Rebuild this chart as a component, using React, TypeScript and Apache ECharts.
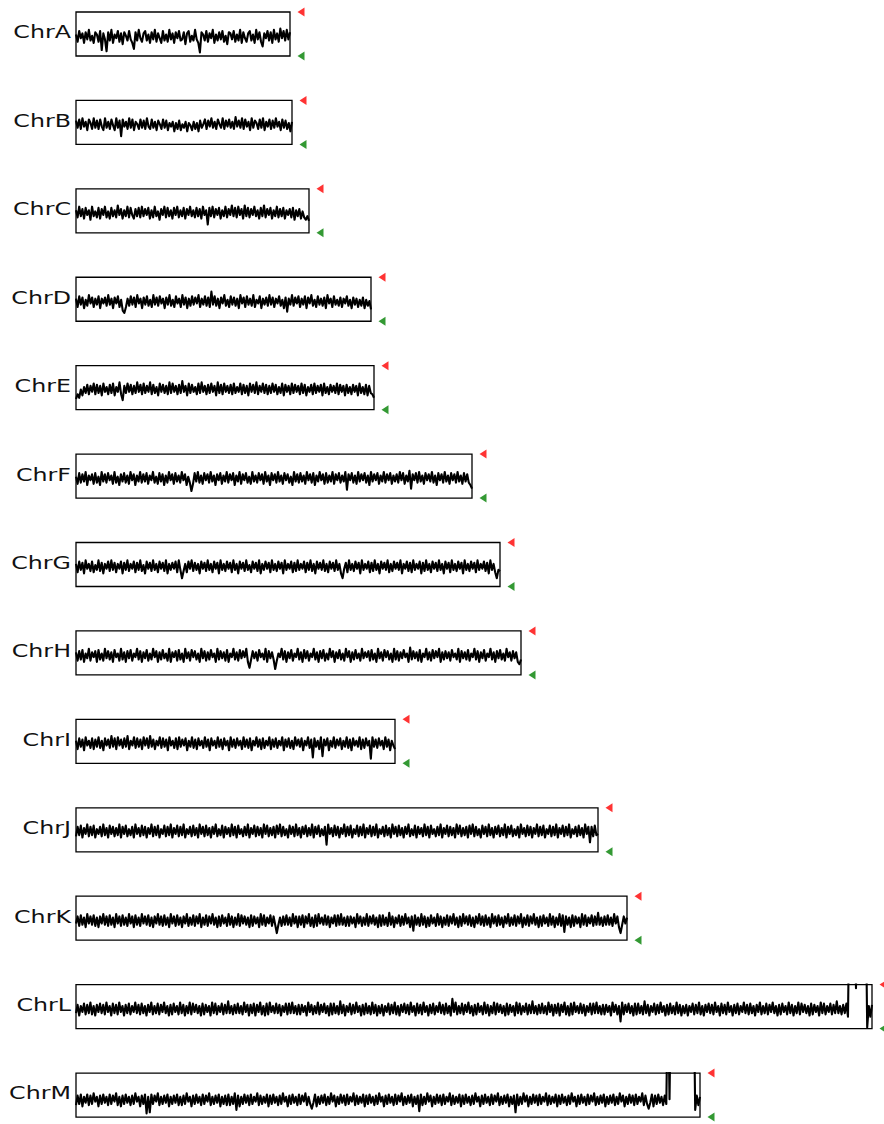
import React, { useEffect, useRef } from "react";
import * as echarts from "echarts";

// ---- data ----
const CHR_NAMES = ["ChrA", "ChrB", "ChrC", "ChrD", "ChrE", "ChrF", "ChrG", "ChrH", "ChrI", "ChrJ", "ChrK", "ChrL", "ChrM"];
// chromosome lengths (kb)
const CHR_LENGTHS = [2140, 2160, 2330, 2950, 2980, 3960, 4240, 4450, 3190, 5220, 5510, 7960, 6240];

// binned signal, evenly spaced along each chromosome (rows of 20 bins)
const chrA = [
  2,-4,5,-1,3,-5,4,-2,6,-3,1,-5,4,2,-4,5,-11,3,-2,-12,
  4,-3,6,-5,2,-1,5,-4,3,-6,4,1,-3,5,-2,-5,-10,4,-3,6,
  -1,-4,3,5,-3,2,-5,4,-2,6,-4,3,-1,-5,5,-3,2,-4,6,-2,
  3,-5,4,-1,5,-3,-2,4,-6,3,5,-4,1,-3,6,-2,-5,-13,4,2,
  -3,5,-4,3,-1,6,-5,2,-3,4,-2,5,-4,1,-6,4,3,-2,5,-4,
  2,-3,6,-5,4,-1,-4,3,5,-3,2,-5,6,-2,4,-4,-8,3,-1,5,
  -3,4,-5,6,-2,3,-4,7,-1,5,-3,6,-2,4,
];
const chrB = [
  4,-2,5,-3,6,-1,3,-4,5,2,-3,6,-2,4,-3,5,-1,-4,6,-2,
  3,-3,5,0,-4,6,-2,4,-9,5,-1,3,-3,6,-2,5,-4,3,1,-3,
  5,-2,4,-3,6,-1,-3,5,-2,3,-4,4,1,-3,5,-2,4,-4,2,-1,
  3,-5,2,-3,4,-4,1,-2,3,-5,2,0,-4,3,-3,2,-5,4,-2,1,
  5,-3,4,-1,6,-2,3,-3,5,1,-2,6,-3,4,-1,5,-2,3,-3,7,
  -1,4,-2,6,-3,5,-1,3,-4,6,-2,4,2,-3,5,-2,6,-4,3,-1,
  5,-3,4,-2,6,-1,3,-4,5,-2,4,-3,2,-5,3,
];
const chrC = [
  3,-3,6,-2,4,-4,5,-1,3,-5,6,-2,2,-3,5,-4,4,-1,6,-3,
  2,-4,5,-2,3,-3,7,-1,4,-4,3,-2,6,-3,5,-1,-4,4,-2,5,
  -3,6,-2,4,-1,5,-4,3,-3,6,-2,2,-5,4,-1,6,-3,5,-2,3,
  -4,5,-1,6,-3,3,-2,5,-4,4,-1,6,-2,3,-3,5,-2,4,-4,6,
  -1,3,-9,5,-2,6,-3,4,-1,5,-4,3,-2,6,-3,4,-1,7,-2,5,
  -3,6,-1,4,-4,7,-2,5,-3,4,-1,6,-2,3,-4,5,-2,7,-3,4,
  -1,5,-4,3,-2,6,-3,4,-2,5,-4,3,-1,4,-3,5,-5,3,-2,4,
  -4,2,-3,-5,-2,-6,
];
const chrD = [
  3,-4,5,-2,4,-5,2,-3,6,-1,4,-4,3,-2,5,-5,3,-1,4,-3,
  6,-2,3,-5,4,-1,5,-4,2,-7,-9,-4,3,-3,5,-2,4,-4,6,-1,
  3,-5,4,-2,5,-3,2,-4,6,-2,4,-3,5,-1,3,-5,4,-2,6,-3,
  2,-4,5,-1,3,-4,6,-2,4,-5,3,-3,5,-2,4,-1,6,-4,3,-2,
  5,-3,4,-4,9,-2,5,-3,3,-5,4,-1,6,-3,2,-4,5,-2,4,-3,
  3,-5,6,-1,4,-4,5,-2,3,-3,6,-4,2,-1,5,-5,3,-2,4,-3,
  6,-2,4,-4,3,-1,5,-3,2,-5,4,-8,3,-2,6,-3,4,-1,5,-4,
  3,-2,5,-5,4,-1,6,-3,2,-4,5,-2,3,-3,4,-5,6,-1,3,-4,
  5,-2,2,-3,4,-4,3,-1,5,-3,2,-5,4,-2,3,-4,2,-3,4,-5,
  2,-3,1,-6,
];
const chrE = [
  -7,-3,-6,1,-4,3,-2,5,-3,4,-1,6,-3,5,-2,4,-4,6,-1,3,
  -3,5,-2,6,-4,3,-1,7,-3,-8,4,-2,6,-1,5,-3,4,-2,7,-1,
  5,-3,6,-2,4,-1,7,-3,5,-2,3,-4,6,-1,5,-2,4,-3,7,-2,
  6,-1,4,-3,5,-2,8,-1,4,-4,6,-2,5,-1,3,-3,6,-2,7,-1,
  4,-3,5,-2,6,-1,4,-4,7,-2,5,-3,6,-1,4,-2,5,-3,6,-2,
  3,-1,6,-3,5,-2,4,-4,6,-1,5,-2,7,-3,4,-1,6,-2,5,-3,
  4,-2,6,-1,5,-3,3,-2,6,-4,5,-1,4,-3,6,-2,5,-1,4,-3,
  6,-2,5,-4,3,-1,5,-3,6,-2,4,-1,5,-4,6,-2,3,-3,5,-1,
  4,-2,6,-3,5,-1,4,-4,5,-2,3,-3,5,-1,4,-4,6,-2,3,-3,
  5,-4,4,-2,-3,-6,
];
const chrF = [
  2,-4,5,-3,4,-2,6,-5,3,-1,4,-4,5,-3,2,-5,6,-2,4,-3,
  5,-1,3,-4,6,-3,2,-5,4,-2,5,-3,3,-4,6,-1,4,-5,3,-2,
  6,-3,4,-2,5,-4,3,-1,6,-3,2,-4,5,-2,4,-5,3,-3,6,-1,
  4,-4,5,-2,3,-3,6,-1,4,-5,2,-3,-10,-4,5,-2,6,-3,3,-4,
  5,-1,4,-3,6,-2,3,-5,4,-1,5,-4,3,-2,6,-3,4,-1,5,-5,
  3,-2,6,-4,4,-1,5,-3,2,-4,6,-2,3,-3,5,-1,4,-4,6,-2,
  3,-5,5,-1,4,-3,6,-2,3,-4,5,-1,4,-3,2,-5,6,-2,4,-3,
  5,-2,3,-4,6,-1,4,-3,5,-5,3,-2,6,-1,4,-4,5,-3,3,-2,
  6,-4,4,-1,5,-3,3,-2,6,-9,4,-1,5,-3,3,-4,6,-2,4,-1,
  5,-3,3,-5,6,-2,4,-1,5,-4,3,-2,6,-3,4,-1,5,-4,3,-2,
  4,-3,6,-1,5,-4,3,-2,7,-8,4,-1,5,-3,6,-2,3,-4,5,-1,
  4,-2,6,-3,3,-5,5,-1,4,-3,6,-2,3,-4,5,-1,4,-3,6,-2,
  3,-4,5,-2,4,-3,-5,-8,
];
const chrG = [
  3,-4,5,-2,4,-5,6,-1,3,-3,5,-4,2,-2,6,-3,4,-5,3,-1,
  5,-3,6,-2,4,-4,3,-1,5,-5,4,-2,6,-3,3,-1,5,-4,4,-2,
  6,-3,2,-5,5,-1,4,-3,6,-2,3,-4,5,-1,4,-3,6,-5,3,-2,
  4,-1,5,-4,6,-2,-9,-3,3,-4,5,-1,6,-3,4,-2,3,-5,5,-1,
  4,-3,6,-2,3,-4,5,-1,4,-5,6,-2,3,-3,5,-1,4,-4,6,-2,
  3,-5,5,-1,4,-3,6,-2,2,-4,5,-1,4,-3,6,-5,3,-2,5,-1,
  4,-4,6,-2,3,-3,5,-1,4,-5,6,-2,3,-1,5,-4,4,-3,6,-2,
  3,-1,5,-4,4,-2,6,-3,3,-5,5,-1,4,-2,6,-3,3,-4,5,-1,
  4,-3,6,-2,3,-5,-9,-1,4,-4,6,-2,3,-3,5,-1,4,-5,6,-2,
  3,-1,5,-4,4,-3,6,-2,3,-5,5,-1,4,-2,6,-4,3,-3,5,-1,
  4,-2,6,-5,3,-1,5,-3,4,-4,6,-2,3,-1,5,-5,4,-3,6,-2,
  3,-4,5,-1,4,-3,6,-2,3,-5,5,-1,4,-4,6,-2,3,-3,5,-1,
  4,-5,6,-2,3,-3,5,-1,4,-4,6,-2,3,-1,5,-3,4,-5,6,-2,
  3,-4,-9,-2,-3,
];
const chrH = [
  3,-4,4,-3,5,-5,2,-2,6,-4,3,-1,4,-5,5,-3,2,-4,6,-2,
  4,-3,3,-5,5,-1,2,-4,6,-3,3,-5,4,-2,5,-4,2,-1,6,-3,
  4,-5,3,-2,5,-4,2,-3,6,-1,4,-5,3,-3,5,-2,2,-4,6,-5,
  3,-1,4,-4,5,-3,2,-5,6,-2,3,-4,5,-1,4,-3,2,-5,6,-2,
  4,-4,3,-3,5,-1,2,-5,6,-3,4,-2,3,-4,5,-5,2,-1,6,-3,
  3,-4,5,-2,4,-1,6,-5,-10,-3,4,-2,3,-4,5,-1,2,-3,6,-5,
  4,-2,3,-3,-11,-4,2,-1,6,-3,4,-5,3,-2,5,-4,2,-1,6,-3,
  3,-5,5,-2,4,-4,2,-1,6,-3,3,-5,4,-2,5,-4,2,-3,6,-1,
  4,-5,3,-2,5,-3,2,-4,6,-1,4,-5,3,-3,5,-2,2,-4,6,-2,
  3,-1,4,-4,5,-3,2,-5,6,-2,3,-4,5,-1,4,-3,2,-5,6,-3,
  4,-4,3,-2,5,-1,2,-5,7,-3,4,-2,3,-4,5,-5,2,-1,6,-3,
  3,-4,5,-2,4,-1,6,-5,3,-3,4,-2,3,-4,5,-1,2,-3,6,-5,
  4,-2,3,-3,5,-4,2,-1,6,-3,4,-5,3,-2,5,-4,2,-1,6,-3,
  3,-5,4,-2,5,-3,2,-4,6,-1,3,-4,4,-2,3,-5,-7,-3,
];
const chrI = [
  3,-4,5,-2,4,-5,6,-1,3,-3,5,-4,4,-2,6,-3,3,-5,5,-1,
  4,-3,7,-2,5,-4,6,-1,4,-3,5,-2,7,-4,3,-1,6,-3,5,-2,
  4,-4,6,-1,5,-3,7,-2,4,-4,3,-1,6,-3,5,-2,4,-5,6,-1,
  3,-3,5,-4,6,-2,4,-1,5,-5,3,-2,6,-3,4,-4,5,-1,3,-3,
  6,-2,4,-5,5,-1,3,-3,6,-2,4,-4,5,-1,3,-5,6,-2,4,-3,
  5,-1,3,-4,6,-2,4,-3,5,-5,3,-1,6,-2,4,-4,5,-3,3,-1,
  6,-4,4,-2,5,-3,3,-1,6,-5,4,-2,5,-3,3,-4,6,-1,4,-2,
  5,-5,3,-1,6,-3,4,-11,5,-2,3,-4,6,-10,4,-1,5,-5,3,-2,
  6,-3,4,-1,5,-4,3,-2,6,-3,4,-5,5,-1,3,-2,6,-4,4,-3,
  5,-1,3,-12,6,-2,4,-3,5,-1,3,-4,6,-2,4,-5,3,-1,-4,
];
const chrJ = [
  -3,5,-2,6,-4,4,-1,7,-3,5,-2,6,-4,3,-1,5,-3,7,-2,4,
  -4,6,-1,5,-3,4,-2,7,-4,5,-1,6,-3,3,-2,5,-4,7,-1,4,
  -3,6,-2,5,-4,4,-1,7,-3,5,-2,6,-4,3,-1,6,-3,5,-2,7,
  -4,4,-1,6,-3,5,-2,7,-4,3,-1,5,-3,6,-2,4,-4,7,-1,5,
  -3,6,-2,4,-4,5,-1,7,-3,3,-2,6,-4,5,-1,4,-3,7,-2,5,
  -4,6,-1,3,-3,5,-2,7,-4,4,-1,6,-3,5,-2,4,-4,7,-1,6,
  -3,4,-2,5,-4,6,-1,7,-3,5,-2,3,-4,6,-1,5,-3,7,-2,4,
  -4,5,-1,6,-3,4,-2,7,-4,5,-1,6,-3,3,-2,5,-10,7,-1,4,
  -3,6,-2,5,-4,4,-1,7,-3,5,-2,6,-4,3,-1,6,-3,5,-2,7,
  -4,4,-1,6,-3,5,-2,7,-4,3,-1,5,-3,6,-2,4,-4,7,-1,5,
  -3,6,-2,4,-4,5,-1,7,-3,3,-2,6,-4,5,-1,4,-3,7,-2,5,
  -4,6,-1,3,-3,5,-2,7,-4,4,-1,6,-3,5,-2,4,-4,7,-1,6,
  -3,4,-2,5,-4,6,-1,7,-3,5,-2,3,-4,6,-1,5,-3,7,-2,4,
  -4,5,-1,6,-3,4,-2,7,-4,5,-1,6,-3,3,-2,5,-4,7,-1,4,
  -3,6,-2,5,-4,4,-1,7,-3,5,-2,6,-4,3,-1,6,-3,5,-2,7,
  -4,4,-1,6,-3,5,-2,7,-4,3,-1,5,-3,6,-2,4,-4,7,-1,5,
  -8,5,-3,6,-2,-1,
];
const chrK = [
  -2,4,-4,5,-3,3,-5,6,-2,4,-3,5,-4,3,-5,4,-2,6,-3,4,
  -4,5,-3,3,-5,6,-2,4,-4,5,-3,3,-4,6,-2,4,-5,5,-3,3,
  -4,6,-2,4,-3,5,-4,3,-5,4,-2,6,-3,4,-4,5,-3,3,-5,6,
  -2,4,-4,5,-3,3,-5,4,-2,6,-4,3,-3,5,-4,4,-2,6,-5,3,
  -3,5,-4,4,-2,6,-3,3,-5,4,-4,5,-2,3,-4,6,-3,4,-5,3,
  -3,6,-4,5,-2,4,-3,3,-5,5,-4,4,-2,3,-5,6,-3,5,-4,3,
  -2,5,-4,4,-3,-10,-3,3,-4,4,-3,5,-3,3,-4,6,-2,4,-5,4,
  -3,5,-5,4,-2,6,-4,3,-5,5,-4,6,-2,3,-3,5,-3,4,-5,3,
  -2,5,-4,5,-3,6,-3,3,-4,4,-4,4,-2,3,-5,6,-2,4,-4,3,
  -3,6,-4,4,-2,5,-3,3,-5,5,-4,5,-3,3,-4,7,-3,4,-5,3,
  -2,5,-4,4,-3,6,-2,3,-5,4,-8,5,-3,3,-4,6,-3,4,-5,3,
  -4,5,-2,3,-4,6,-3,4,-5,3,-3,5,-4,4,-2,6,-3,3,-5,4,
  -4,6,-2,4,-3,5,-4,3,-5,4,-2,6,-3,4,-4,5,-3,3,-5,6,
  -2,4,-4,5,-3,3,-5,4,-2,6,-4,3,-3,5,-4,4,-2,6,-5,3,
  -3,5,-4,4,-2,6,-3,3,-5,4,-4,5,-2,3,-4,6,-3,4,-5,3,
  -3,6,-4,5,-9,4,-3,3,-5,5,-4,4,-2,3,-5,6,-3,5,-4,3,
  -2,5,-4,4,-3,7,-3,3,-4,4,-3,5,-3,3,-4,6,-2,4,-5,-10,
  -3,4,-2,3,
];
const chrL = [
  -3,4,-5,3,-2,5,-4,4,-3,6,-4,3,-5,4,-2,5,-3,4,-4,6,
  -2,3,-5,5,-3,4,-4,6,-2,3,-5,4,-3,5,-4,3,-2,6,-3,4,
  -4,5,-3,3,-5,4,-2,6,-4,3,-3,5,-4,4,-2,6,-3,3,-5,4,
  -4,5,-2,3,-4,6,-3,4,-5,3,-3,6,-4,5,-2,4,-3,3,-5,5,
  -4,4,-2,3,-5,6,-3,5,-4,3,-2,5,-4,4,-3,7,-3,3,-4,4,
  -3,5,-3,3,-4,6,-2,4,-5,4,-3,5,-5,4,-2,6,-4,3,-5,5,
  -4,6,-2,3,-3,5,-3,4,-5,3,-2,5,-4,5,-3,6,-3,3,-4,4,
  -4,4,-2,3,-5,6,-2,4,-4,3,-3,6,-4,4,-2,5,-3,3,-5,5,
  -4,5,-3,3,-4,7,-3,4,-5,3,-2,5,-4,4,-3,6,-2,3,-5,4,
  -4,5,-3,3,-4,6,-3,4,-5,3,-3,4,-5,3,-2,5,-4,4,-3,6,
  -4,3,-5,4,-2,5,-3,4,-4,6,-2,3,-5,5,-3,4,-4,6,-2,3,
  -5,4,-3,5,-4,3,-2,6,-3,4,-4,5,-3,3,-5,9,-2,6,-4,3,
  -3,5,-4,4,-2,6,-3,3,-5,4,-4,5,-2,3,-4,6,-3,4,-5,3,
  -3,6,-4,5,-2,4,-3,3,-5,5,-4,4,-2,3,-5,6,-3,5,-4,3,
  -2,5,-4,4,-3,7,-3,3,-4,4,-3,5,-3,3,-4,6,-2,4,-5,4,
  -3,5,-5,4,-2,6,-4,3,-5,5,-4,6,-2,3,-3,5,-3,4,-5,3,
  -2,5,-4,5,-3,6,-3,3,-4,4,-4,4,-2,3,-5,6,-2,4,-4,3,
  -10,6,-4,4,-2,5,-3,3,-5,5,-4,5,-3,3,-4,7,-3,4,-5,3,
  -2,5,-4,4,-3,6,-2,3,-5,4,-4,5,-3,3,-4,6,-3,4,-5,3,
  -3,4,-5,3,-2,5,-4,4,-3,6,-4,3,-5,4,-2,5,-3,4,-4,6,
  -2,3,-5,5,-3,4,-4,6,-2,3,-5,4,-3,5,-4,3,-2,6,-3,4,
  -4,5,-3,3,-5,4,-2,6,-4,3,-3,5,-4,4,-2,6,-3,3,-5,4,
  -4,5,-2,3,-4,6,-3,4,-5,3,-3,6,-4,5,-2,4,-3,3,-5,5,
  -4,4,-2,3,-5,6,-3,5,-4,3,-2,5,-4,4,-3,7,-3,3,-4,4,
  -3,5,-6,99,99,99,99,18,99,99,99,99,99,99,-15,3,-6,4,
];
const chrM = [
  -6,2,-5,3,-7,1,-4,3,-6,2,-5,4,-3,1,-7,2,-5,3,-4,1,
  -6,3,-5,2,-3,4,-6,1,-7,2,-5,3,-4,1,-6,2,-5,4,-3,1,
  -7,2,-5,3,-13,1,-12,3,-5,2,-3,4,-6,1,-5,2,-4,3,-7,1,
  -5,2,-4,3,-6,1,-6,2,-5,4,-3,1,-7,2,-5,3,-4,1,-6,3,
  -5,2,-3,4,-6,1,-5,2,-4,3,-7,1,-5,2,-6,3,-6,1,-5,4,
  -10,2,-7,1,-5,3,-4,2,-6,3,-5,1,-3,4,-6,2,-5,1,-4,3,
  -7,2,-5,3,-4,1,-6,2,-5,4,-3,1,-7,2,-5,3,-4,1,-6,3,
  -5,2,-3,4,-6,1,-5,-9,-4,3,-7,1,-5,2,-4,3,-6,1,-5,4,
  -3,2,-7,1,-5,3,-4,2,-6,3,-5,1,-3,4,-6,2,-5,1,-4,3,
  -7,2,-5,3,-4,1,-6,2,-5,4,-3,1,-7,2,-5,3,-4,1,-6,3,
  -5,2,-3,4,-6,1,-5,2,-4,3,-7,1,-5,2,-11,3,-6,1,-5,4,
  -3,2,-7,1,-5,3,-4,2,-6,3,-5,1,-3,4,-6,2,-5,1,-4,3,
  -7,2,-5,3,-4,1,-6,2,-5,4,-3,1,-7,2,-5,3,-4,1,-6,3,
  -5,2,-3,4,-6,1,-5,2,-4,3,-7,1,-5,2,-12,3,-6,1,-5,4,
  -3,2,-7,1,-5,3,-4,2,-6,3,-5,1,-3,4,-6,2,-5,1,-4,3,
  -7,2,-5,3,-4,1,-6,2,-5,4,-3,1,-7,2,-5,3,-4,1,-6,3,
  -5,2,-3,4,-6,1,-5,2,-4,3,-7,1,-5,2,-4,3,-6,1,-5,4,
  -3,2,-7,1,-5,3,-4,2,-6,3,-5,1,-3,4,-6,2,-5,-9,-4,3,
  -7,2,-5,3,-4,1,-6,2,-5,99,-1,99,99,99,99,99,99,99,99,99,
  99,99,99,99,99,99,-10,2,-6,1,
];
const CHR_SIGNALS = [chrA, chrB, chrC, chrD, chrE, chrF, chrG, chrH, chrI, chrJ, chrK, chrL, chrM];

// signal axis range and threshold markers
const SIGNAL_MIN = -16;
const SIGNAL_MAX = 21;
const GAIN_MARK = SIGNAL_MAX;
const LOSS_MARK = SIGNAL_MIN;

// ---- layout ----
const PANEL_LEFT = 76;
const PANEL_TOP0 = 12;
const PANEL_STEP = 88.42;
const PANEL_HEIGHT = 44;
const KB_PER_PX = 10;
const MARK_OFFSET_PX = 11;

export default function App() {
  const ref = useRef<HTMLDivElement>(null);

  useEffect(() => {
    document.body.style.margin = "0";
    if (!ref.current) return;
    const chart = echarts.init(ref.current, undefined, { renderer: "svg" });

    const grids: any[] = [];
    const xAxes: any[] = [];
    const yAxes: any[] = [];
    const series: any[] = [];
    const graphics: any[] = [];

    CHR_NAMES.forEach((name, i) => {
      const len = CHR_LENGTHS[i];
      const vals = CHR_SIGNALS[i];
      const top = PANEL_TOP0 + i * PANEL_STEP;
      grids.push({
        left: PANEL_LEFT,
        top,
        width: len / KB_PER_PX,
        height: PANEL_HEIGHT,
        show: true,
        borderColor: "#000",
        borderWidth: 1.3,
        backgroundColor: "transparent",
      });
      xAxes.push({ gridIndex: i, type: "value", min: 0, max: len, show: false });
      yAxes.push({ gridIndex: i, type: "value", min: SIGNAL_MIN, max: SIGNAL_MAX, show: false });
      series.push({
        type: "line",
        xAxisIndex: i,
        yAxisIndex: i,
        data: vals.map((v, j) => [(j * len) / (vals.length - 1), v]),
        showSymbol: false,
        symbol: "none",
        lineStyle: { color: "#000", width: 2.1, join: "round", cap: "butt" },
        clip: true,
        silent: true,
      });
      const markX = len + MARK_OFFSET_PX * KB_PER_PX;
      series.push({
        type: "scatter",
        xAxisIndex: i,
        yAxisIndex: i,
        data: [[markX, GAIN_MARK]],
        symbol: "triangle",
        symbolSize: [9, 7],
        symbolRotate: 90,
        itemStyle: { color: "#ff0000" },
        clip: false,
        silent: true,
      });
      series.push({
        type: "scatter",
        xAxisIndex: i,
        yAxisIndex: i,
        data: [[markX, LOSS_MARK]],
        symbol: "triangle",
        symbolSize: [9, 7],
        symbolRotate: 90,
        itemStyle: { color: "#008000" },
        clip: false,
        silent: true,
      });
      graphics.push({
        type: "text",
        x: PANEL_LEFT - 5,
        y: top + 20,
        scaleX: 1.32,
        silent: true,
        style: {
          text: name,
          fontSize: 18,
          fontFamily: "DejaVu Sans",
          fill: "#111",
          align: "right",
          verticalAlign: "middle",
          textAlign: "right",
          textVerticalAlign: "middle",
        },
      });
    });

    chart.setOption({
      animation: false,
      backgroundColor: "#fff",
      grid: grids,
      xAxis: xAxes,
      yAxis: yAxes,
      series,
      graphic: graphics,
    });

    return () => chart.dispose();
  }, []);

  return <div ref={ref} style={{ width: 884, height: 1124 }} />;
}
